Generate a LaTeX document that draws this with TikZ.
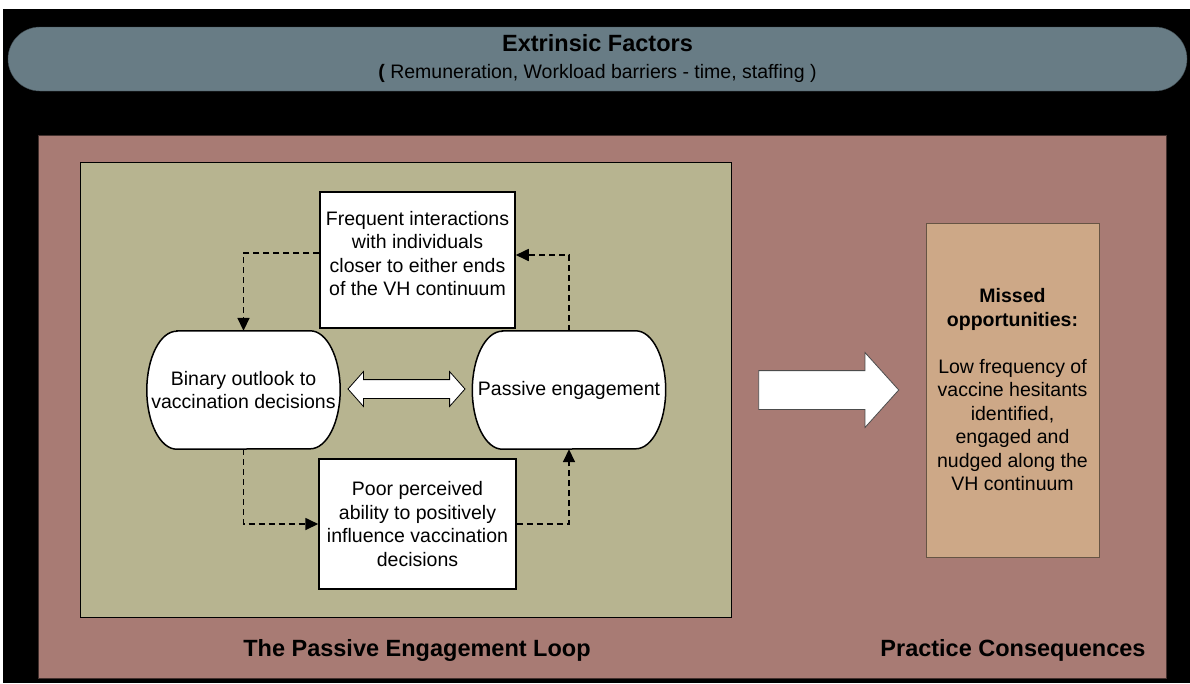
\documentclass[tikz,border=0pt]{standalone}
\usepackage{fontspec}
\setmainfont{Liberation Sans}
\usetikzlibrary{shapes.arrows,arrows.meta,backgrounds}
\definecolor{bannerblue}{HTML}{687C85}
\definecolor{panelpink}{HTML}{A87B74}
\definecolor{loopkhaki}{HTML}{B7B490}
\definecolor{misstan}{HTML}{CDA887}

\begin{document}
\begin{tikzpicture}[x=1pt,y=-1pt,
  txt/.style={font=\fontsize{19.5}{23.5}\selectfont,align=center},
  whitebox/.style={txt,draw,line width=1.5pt,fill=white,inner sep=0pt},
  termbox/.style={txt,minimum width=193pt,minimum height=118pt,inner sep=0pt},
  loopline/.style={dash pattern=on 6pt off 4pt,line width=1.7pt,-{Triangle[length=13pt,width=12pt]}},
  title/.style={font=\fontsize{23.5}{28}\selectfont\bfseries}]
\useasboundingbox (0,0) rectangle (1190,683);
\begin{scope}[on background layer]
\fill[black] (3,9) rectangle (1190,683);
\draw[fill=panelpink,draw=black!60!panelpink] (38,135) rectangle (1166,678);
\draw[fill=loopkhaki,line width=1pt] (80,162) rectangle (731,617);
\end{scope}

\node[txt,draw=black!40!bannerblue,fill=bannerblue,rounded corners=32pt,minimum width=1179pt,minimum height=64pt,
  font=\fontsize{19.5}{27}\selectfont] (extr) at (597.5,59)
  {{\fontsize{23.5}{28}\selectfont\bfseries Extrinsic Factors}\\{\textbf{(} Remuneration, Workload barriers - time, staffing )}};

\node[whitebox,minimum width=195pt,minimum height=136pt] (freq) at (417.5,260)
  {Frequent interactions\\with individuals\\closer to either ends\\of the VH continuum\\[-10pt]\mbox{}};
\node[termbox] (binary) at (243.5,390) {Binary outlook to\\vaccination decisions};
\node[termbox] (passive) at (569,390) {Passive engagement};
\node[whitebox,minimum width=197pt,minimum height=130pt] (poor) at (417.5,524)
  {Poor perceived\\ability to positively\\influence vaccination\\decisions};

\begin{scope}[on background layer]
\foreach \n in {binary,passive}
  \draw[line width=1.5pt,fill=white] ([xshift=30pt]\n.north west) -- ([xshift=-30pt]\n.north east)
    arc[start angle=90,end angle=-90,x radius=30pt,y radius=59pt] -- ([xshift=30pt]\n.south west)
    arc[start angle=270,end angle=90,x radius=30pt,y radius=59pt] -- cycle;
\end{scope}

\node[double arrow,draw,fill=white,line width=0.8pt,minimum height=117pt,inner sep=9pt,
  double arrow head extend=8pt,double arrow tip angle=97] (both) at (406.5,389) {};

\draw[loopline] ([yshift=7pt]freq.west) -| (binary.north);
\draw[loopline] (passive.north) |- ([yshift=5pt]freq.east);
\draw[loopline] (binary.south) |- (poor.west);
\draw[loopline] (poor.east) -| (passive.south);

\node[single arrow,draw=black!70,fill=white,line width=0.8pt,minimum height=140pt,inner sep=19pt,
  single arrow head extend=18pt,single arrow tip angle=96] (toward) at (820,390) {};

\node[txt,draw=black!50!misstan,fill=misstan,minimum width=173pt,minimum height=334pt,inner sep=0pt] (missed) at (1012.5,390)
  {\textbf{Missed}\\\textbf{opportunities:}\\[23.5pt]Low frequency of\\vaccine hesitants\\identified,\\engaged and\\nudged along the\\VH continuum};

\node[title] (looplabel) at (417,650) {The Passive Engagement Loop};
\node[title] (practice) at (1013,650) {Practice Consequences};
\end{tikzpicture}
\end{document}
